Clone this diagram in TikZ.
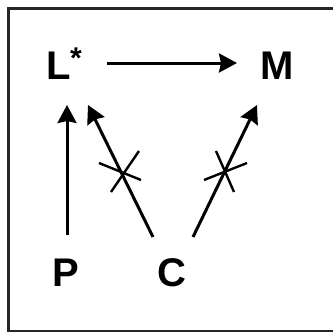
\documentclass[tikz,border=0pt]{standalone}
\usepackage{fontspec}
\setmainfont{Liberation Sans}
\usetikzlibrary{arrows.meta}
\begin{document}
\begin{tikzpicture}[x=1pt,y=-1pt,
  lbl/.style={font=\fontsize{40}{40}\selectfont\bfseries, inner sep=0pt, anchor=base},
  arr/.style={line width=3pt, -{Stealth[length=18pt,width=19pt,inset=2pt]}},
  crossline/.style={line width=2.4pt},
  frame/.style={line width=2.8pt, draw=black!85}]
\useasboundingbox (0,0) rectangle (333,332);
\coordinate (f1) at (333,8.5);
\coordinate (f2) at (8.5,8.5);
\coordinate (f3) at (8.5,331.8);
\coordinate (f4) at (333,331.8);
\draw[frame] (f1) -- (f2) -- (f3) -- (f4);
\node[lbl] (L) at (59,79) {L};
\node[font=\fontsize{30}{30}\selectfont\bfseries, inner sep=0pt] (star) at (76,58) {*};
\node[lbl] (M) at (277,79) {M};
\node[lbl] (P) at (66,287) {P};
\node[lbl] (C) at (172,287) {C};
\coordinate (lma) at (107,63);
\coordinate (lmb) at (237,63);
\coordinate (pla) at (67,235);
\coordinate (plb) at (67,105);
\coordinate (cla) at (153,237);
\coordinate (clb) at (88,105);
\coordinate (cma) at (193,237);
\coordinate (cmb) at (257,105);
\draw[arr] (lma) -- (lmb);
\draw[arr] (pla) -- (plb);
\draw[arr] (cla) -- (clb);
\draw[arr] (cma) -- (cmb);
\draw[crossline] (99,163) -- (141,180);
\draw[crossline] (111,192) -- (139,151);
\draw[crossline] (204,180) -- (247,163);
\draw[crossline] (216,151) -- (234,192);
\end{tikzpicture}
\end{document}
